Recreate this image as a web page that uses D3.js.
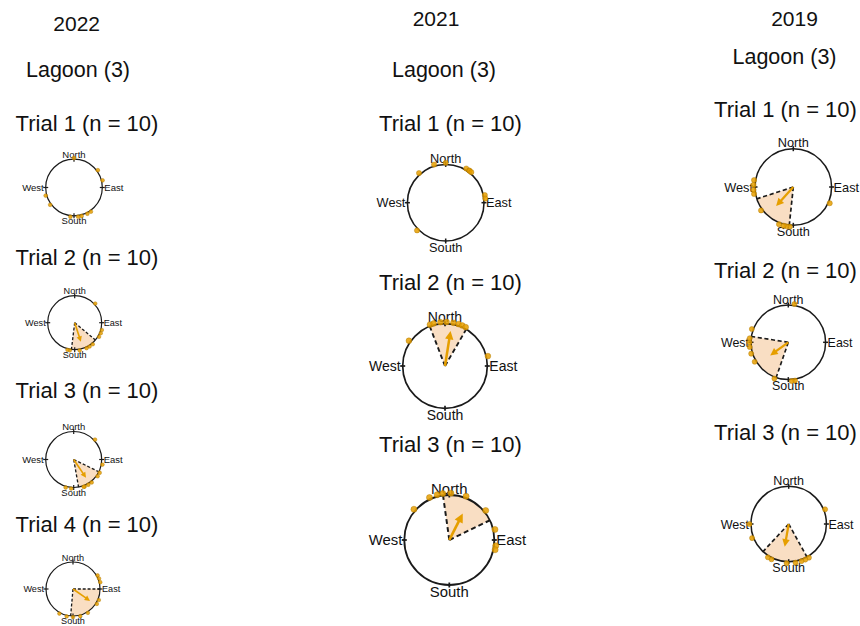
<!DOCTYPE html>
<html>
<head>
<meta charset="utf-8">
<script src="https://cdn.jsdelivr.net/npm/d3@7"></script>
<style>
  html, body { margin: 0; background: #fff; }
  svg { display: block; }
  text { font-family: "Liberation Sans", Arial, Helvetica, sans-serif; fill: #111; }
</style>
</head>
<body>
<svg id="chart" width="860" height="626"></svg>
<script>
// ---- Data -------------------------------------------------------------
const years = ["2022", "2021", "2019"];
const siteLabel = "Lagoon (3)";
const trialNames = ["Trial 1", "Trial 2", "Trial 3", "Trial 4"];
const trialCounts2022 = [10, 10, 10, 10];
const trialCounts2021 = [10, 10, 10];
const trialCounts2019 = [10, 10, 10];
const compassLabels = ["North", "East", "South", "West"];
const compassBearings = [0, 90, 180, 270];

// individual headings (degrees clockwise from North)
const bearings2022 = [
  [0, 54, 76, 145, 153, 165, 172, 187, 234, 254],
  [47, 105, 112, 120, 140, 148, 155, 170, 190, 195],
  [47, 100, 117, 125, 142, 150, 158, 160, 185, 196],
  [61, 68, 76, 113, 122, 148, 165, 180, 193, 209]
];
const bearings2021 = [
  [226, 318, 343, 0, 31, 36, 37, 40, 79, 84],
  [305, 340, 345, 354, 2, 11, 18, 23, 28, 77],
  [311, 335, 345, 352, 2, 21, 51, 77, 97, 102]
];
const bearings2019 = [
  [114, 185, 190, 194, 201, 234, 260, 266, 273, 280],
  [9, 170, 175, 201, 240, 253, 263, 270, 276, 290],
  [68, 149, 155, 161, 170, 183, 206, 212, 249, 270]
];

// mean vector (direction, length) and its confidence interval; null = not drawn
const meanDir2022 = [null, 162, 146, 125];
const meanLen2022 = [null, 0.74, 0.79, 0.77];
const ciLow2022   = [null, 130, 116, 90];
const ciHigh2022  = [null, 187, 170, 185];

const meanDir2021 = [null, 9, 27];
const meanLen2021 = [null, 0.84, 0.66];
const ciLow2021   = [null, 339, 352];
const ciHigh2021  = [null, 30, 64];

const meanDir2019 = [222, 234, 190];
const meanLen2019 = [0.67, 0.60, 0.61];
const ciLow2019   = [186, 199, 151];
const ciHigh2019  = [252, 279, 223];

// ---- Layout ------------------------------------------------------------
const layout = [
  { yearX: 76.7, yearY: 30.7, siteX: 78, siteY: 76.5, trialX: 87,
    trialY: [131, 264.5, 398, 532],
    panels: [{cx: 74, cy: 187.5, r: 28.3}, {cx: 74.7, cy: 322.7, r: 27},
             {cx: 73.7, cy: 459.5, r: 28}, {cx: 73, cy: 589, r: 27}] },
  { yearX: 436, yearY: 25.5, siteX: 444, siteY: 76.5, trialX: 450.5,
    trialY: [131, 289.5, 452],
    panels: [{cx: 445.7, cy: 202.7, r: 38.3}, {cx: 445, cy: 366, r: 42.3},
             {cx: 449.3, cy: 540, r: 45}] },
  { yearX: 794.5, yearY: 25.5, siteX: 784.5, siteY: 64, trialX: 785.5,
    trialY: [117, 278, 440],
    panels: [{cx: 793.3, cy: 187, r: 38.3}, {cx: 788.3, cy: 342.3, r: 37.3},
             {cx: 788.7, cy: 524, r: 37.7}] }
];

const columnData = [
  { counts: trialCounts2022, bearings: bearings2022, dir: meanDir2022, len: meanLen2022, lo: ciLow2022, hi: ciHigh2022 },
  { counts: trialCounts2021, bearings: bearings2021, dir: meanDir2021, len: meanLen2021, lo: ciLow2021, hi: ciHigh2021 },
  { counts: trialCounts2019, bearings: bearings2019, dir: meanDir2019, len: meanLen2019, lo: ciLow2019, hi: ciHigh2019 }
];

const ORANGE = "#E69F00";
const WEDGE = "#F9DEC3";

// bearing (deg, clockwise from North) -> radians, same convention as d3.arc
const angle = d3.scaleLinear().domain([0, 360]).range([0, 2 * Math.PI]);

const svg = d3.select("#chart");

function polar(bearing, dist) {
  const a = angle(bearing);
  return [dist * Math.sin(a), -dist * Math.cos(a)];
}

layout.forEach((col, ci) => {
  const d = columnData[ci];

  svg.append("text").attr("x", col.yearX).attr("y", col.yearY)
    .attr("text-anchor", "middle").style("font-size", "21px").text(years[ci]);
  svg.append("text").attr("x", col.siteX).attr("y", col.siteY)
    .attr("text-anchor", "middle").style("font-size", "21.5px").text(siteLabel);

  col.panels.forEach((p, ti) => {
    svg.append("text").attr("x", col.trialX).attr("y", col.trialY[ti])
      .attr("text-anchor", "middle").style("font-size", "22px")
      .text(`${trialNames[ti]} (n = ${d.counts[ti]})`);

    const radial = d3.scaleLinear().domain([0, 1]).range([0, p.r]);
    const g = svg.append("g").attr("transform", `translate(${p.cx},${p.cy})`);
    const fs = 0.32 * p.r + 0.5;
    const lw = Math.max(1.2, 0.04 * p.r);

    // confidence wedge
    const lo = d.lo[ti], hi = d.hi[ti];
    if (lo !== null) {
      const hiAdj = hi < lo ? hi + 360 : hi;
      g.append("path")
        .attr("d", d3.arc()({innerRadius: 0, outerRadius: radial(1),
                             startAngle: angle(lo), endAngle: angle(hiAdj)}))
        .attr("fill", WEDGE);
    }

    // unit circle
    g.append("circle").attr("r", radial(1)).attr("fill", "none")
      .attr("stroke", "#1a1a1a").attr("stroke-width", lw);

    // cardinal ticks
    compassBearings.forEach(b => {
      const [x1, y1] = polar(b, radial(1) - 2.5);
      const [x2, y2] = polar(b, radial(1) + 2.5);
      g.append("line").attr("x1", x1).attr("y1", y1).attr("x2", x2).attr("y2", y2)
        .attr("stroke", "#1a1a1a").attr("stroke-width", lw);
    });

    // dashed CI bounds
    if (lo !== null) {
      [lo, hi].forEach(b => {
        const [x, y] = polar(b, radial(1));
        g.append("line").attr("x1", 0).attr("y1", 0).attr("x2", x).attr("y2", y)
          .attr("stroke", "#1a1a1a").attr("stroke-width", lw * 1.1)
          .attr("stroke-dasharray", `${0.11 * p.r},${0.07 * p.r}`);
      });
    }

    // mean vector arrow
    if (d.dir[ti] !== null) {
      const L = radial(d.len[ti]);
      const head = 0.2 * p.r, hw = 0.1 * p.r;
      const ag = g.append("g").attr("transform", `rotate(${d.dir[ti]})`);
      ag.append("line").attr("x1", 0).attr("y1", 0).attr("x2", 0).attr("y2", -(L - head * 0.8))
        .attr("stroke", ORANGE).attr("stroke-width", 0.06 * p.r);
      ag.append("path")
        .attr("d", `M0,${-L}L${-hw},${-L + head}L${hw},${-L + head}Z`)
        .attr("fill", ORANGE);
    }

    // compass labels
    const R = radial(1);
    g.append("text").attr("x", 0).attr("y", -R - 1.5).attr("text-anchor", "middle")
      .style("font-size", fs + "px").text(compassLabels[0]);
    g.append("text").attr("x", R + 2).attr("y", fs * 0.36).attr("text-anchor", "start")
      .style("font-size", fs + "px").text(compassLabels[1]);
    g.append("text").attr("x", 0).attr("y", R + 1.5 + fs * 0.72).attr("text-anchor", "middle")
      .style("font-size", fs + "px").text(compassLabels[2]);
    g.append("text").attr("x", -R - 2).attr("y", fs * 0.36).attr("text-anchor", "end")
      .style("font-size", fs + "px").text(compassLabels[3]);

    // individual headings
    const dr = 0.068 * p.r;
    g.selectAll("circle.obs").data(d.bearings[ti]).join("circle")
      .attr("class", "obs")
      .attr("cx", b => polar(b, radial(1) + dr * 0.6)[0])
      .attr("cy", b => polar(b, radial(1) + dr * 0.6)[1])
      .attr("r", dr)
      .attr("fill", ORANGE).attr("fill-opacity", 0.85)
      .attr("stroke", "#a87400").attr("stroke-width", 0.4);
  });
});
</script>
</body>
</html>
